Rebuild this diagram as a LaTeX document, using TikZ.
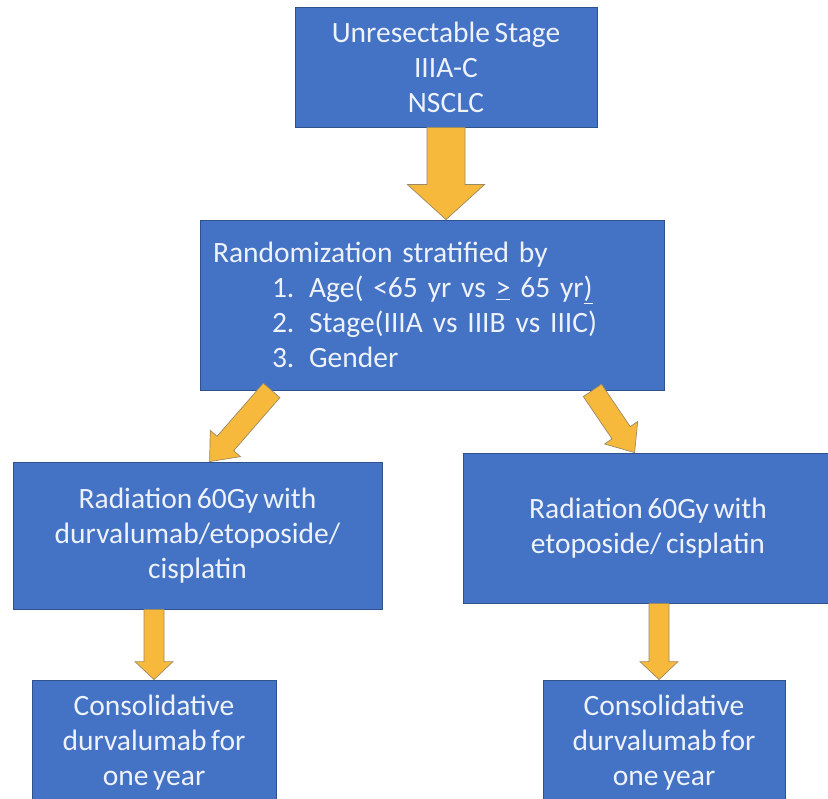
\documentclass[tikz,border=0pt]{standalone}
\usepackage{fontspec}
\setmainfont{Carlito}[WordSpace=0.7]
\usetikzlibrary{calc}

\definecolor{boxblue}{HTML}{4472C4}
\definecolor{boxline}{HTML}{2F528F}
\definecolor{arrowgold}{HTML}{F6B93B}
\definecolor{arrowline}{HTML}{9C8A62}
\definecolor{boxtext}{HTML}{EEF2FA}

% from, to, half shaft, half head, head length
\newcommand{\blockarrow}[5]{%
  \coordinate (hb) at ($(#2)!#5!(#1)$);
  \draw[arrowbody] ($(#1)!#3!90:(#2)$) -- ($(hb)!#3!-90:(#1)$) -- ($(hb)!#4!-90:(#1)$) -- (#2)
    -- ($(hb)!#4!90:(#1)$) -- ($(hb)!#3!90:(#1)$) -- ($(#1)!#3!-90:(#2)$) -- cycle;
}

\begin{document}
\begin{tikzpicture}
  [x=1pt,y=-1pt,
   box/.style={draw=boxline,line width=0.8pt,fill=boxblue,text=boxtext,
     font=\fontsize{29.5}{35}\selectfont,align=center,inner sep=0pt},
   arrowbody/.style={draw=arrowline,line width=0.7pt,fill=arrowgold,line join=miter}]
  \useasboundingbox (0,0) rectangle (828,799);
  \node[box,minimum width=302pt,minimum height=120pt] (stage) at (446,67)
    {Unresectable Stage\\IIIA-C\\NSCLC};
  \node[box,minimum width=464pt,minimum height=170pt,text width=438pt,align=left,inner xsep=13pt] (rand) at (432,305)
    {Randomization stratified by\\
     \hspace*{59pt}1. Age( <65 yr vs \underline{>} 65 yr\underline{)}\\
     \hspace*{59pt}2. Stage(IIIA vs IIIB vs IIIC)\\
     \hspace*{59pt}3. Gender};
  \node[box,minimum width=369pt,minimum height=147pt] (armA) at (197.5,535.5)
    {Radiation 60Gy with\\durvalumab/etoposide/\\cisplatin};
  \node[box,minimum width=370pt,minimum height=150pt] (armB) at (648,528)
    {Radiation 60Gy with\\etoposide/ cisplatin};
  \node[box,minimum width=244pt,minimum height=126pt] (consA) at (154,743)
    {Consolidative\\durvalumab for\\one year};
  \node[box,minimum width=242pt,minimum height=126pt] (consB) at (664,743)
    {Consolidative\\durvalumab for\\one year};

  \coordinate (s1) at (stage.south);
  \coordinate (e1) at (stage.south |- rand.north);
  \coordinate (s2) at ([xshift=72pt]rand.south west);
  \coordinate (e2) at ([xshift=197pt]armA.north west);
  \coordinate (s3) at ([xshift=-72pt]rand.south east);
  \coordinate (e3) at ([xshift=172pt]armB.north west);
  \coordinate (s4) at (consA.north |- armA.south);
  \coordinate (s5) at ([xshift=-5pt]consB.north |- armB.south);
  \coordinate (e5) at ([xshift=-5pt]consB.north);

  \blockarrow{s1}{e1}{19pt}{38.5pt}{35pt}
  \blockarrow{s2}{e2}{11pt}{20pt}{24pt}
  \blockarrow{s3}{e3}{11pt}{20pt}{24pt}
  \blockarrow{s4}{consA.north}{10pt}{19pt}{18pt}
  \blockarrow{s5}{e5}{10pt}{19pt}{18pt}
\end{tikzpicture}
\end{document}
